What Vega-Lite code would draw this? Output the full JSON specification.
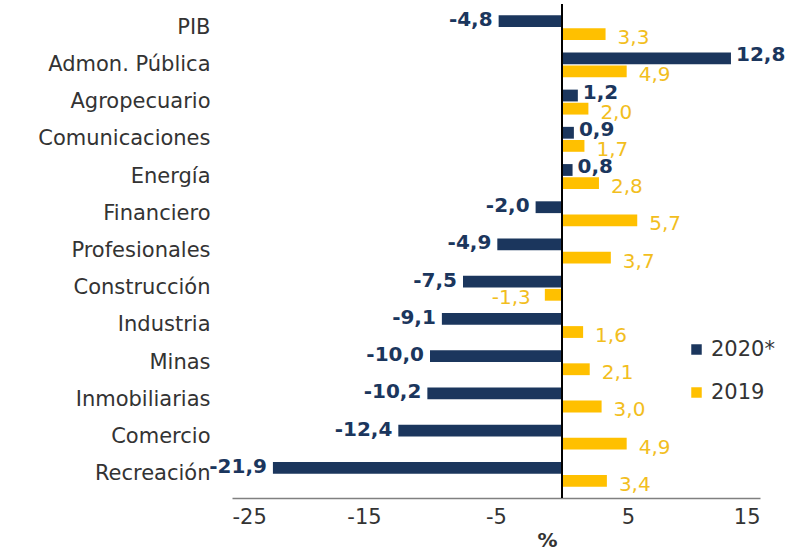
{
  "$schema": "https://vega.github.io/schema/vega-lite/v6.json",
  "width": 528,
  "height": 494,
  "autosize": "none",
  "padding": {"left": 232, "top": 4, "right": 25, "bottom": 52},
  "background": "white",
  "config": {
    "view": {"stroke": null},
    "font": "DejaVu Sans",
    "locale": {"number": {"decimal": ",", "thousands": ".", "grouping": [3], "currency": ["", " €"], "minus": "-"}}
  },
  "data": {
    "values": [
      {"cat": "PIB", "series": "2020*", "v": -4.8},
      {"cat": "PIB", "series": "2019", "v": 3.3},
      {"cat": "Admon. Pública", "series": "2020*", "v": 12.8},
      {"cat": "Admon. Pública", "series": "2019", "v": 4.9},
      {"cat": "Agropecuario", "series": "2020*", "v": 1.2},
      {"cat": "Agropecuario", "series": "2019", "v": 2.0},
      {"cat": "Comunicaciones", "series": "2020*", "v": 0.9},
      {"cat": "Comunicaciones", "series": "2019", "v": 1.7},
      {"cat": "Energía", "series": "2020*", "v": 0.8},
      {"cat": "Energía", "series": "2019", "v": 2.8},
      {"cat": "Financiero", "series": "2020*", "v": -2.0},
      {"cat": "Financiero", "series": "2019", "v": 5.7},
      {"cat": "Profesionales", "series": "2020*", "v": -4.9},
      {"cat": "Profesionales", "series": "2019", "v": 3.7},
      {"cat": "Construcción", "series": "2020*", "v": -7.5},
      {"cat": "Construcción", "series": "2019", "v": -1.3},
      {"cat": "Industria", "series": "2020*", "v": -9.1},
      {"cat": "Industria", "series": "2019", "v": 1.6},
      {"cat": "Minas", "series": "2020*", "v": -10.0},
      {"cat": "Minas", "series": "2019", "v": 2.1},
      {"cat": "Inmobiliarias", "series": "2020*", "v": -10.2},
      {"cat": "Inmobiliarias", "series": "2019", "v": 3.0},
      {"cat": "Comercio", "series": "2020*", "v": -12.4},
      {"cat": "Comercio", "series": "2019", "v": 4.9},
      {"cat": "Recreación", "series": "2020*", "v": -21.9},
      {"cat": "Recreación", "series": "2019", "v": 3.4}
    ]
  },
  "encoding": {
    "y": {
      "field": "cat", "type": "nominal", "sort": null,
      "scale": {"paddingInner": 0.33, "paddingOuter": 0.3},
      "axis": {"title": null, "domain": false, "ticks": false, "labelPadding": 22, "labelFontSize": 21, "labelColor": "#333333", "labelFont": "DejaVu Sans"}
    },
    "yOffset": {"field": "series", "type": "nominal", "sort": ["2020*", "2019"], "scale": {"paddingInner": 0.1}},
    "x": {
      "field": "v", "type": "quantitative",
      "scale": {"domain": [-25, 15], "nice": false, "zero": false},
      "axis": {"values": [-25, -15, -5, 5, 15], "grid": false, "ticks": false, "domainColor": "#808080", "domainWidth": 1.5, "labelFontSize": 21, "labelColor": "#333333", "labelPadding": 8, "title": "%", "titleFontSize": 20, "titleFontWeight": "bold", "titleColor": "#333333", "titlePadding": 3, "titleX": 315}
    }
  },
  "layer": [
    {
      "mark": {"type": "bar"},
      "encoding": {
        "color": {
          "field": "series", "type": "nominal",
          "scale": {"domain": ["2020*", "2019"], "range": ["#1B365D", "#FFC000"]},
          "legend": {"title": null, "orient": "none", "legendX": 454, "legendY": 335, "symbolType": "square", "symbolSize": 110, "symbolStrokeWidth": 0, "labelFontSize": 21, "labelColor": "#333333", "rowPadding": 21, "labelOffset": 4}
        }
      }
    },
    {
      "mark": {"type": "rule", "color": "black", "strokeWidth": 1.5},
      "encoding": {"x": {"datum": 0}, "y": null, "yOffset": null}
    },
    {
      "transform": [{"filter": "datum.series === '2020*' && datum.v < 0"}],
      "mark": {"type": "text", "align": "right", "baseline": "middle", "dx": -6, "dy": -1, "fontSize": 20, "fontWeight": "bold", "color": "#1B365D"},
      "encoding": {"text": {"field": "v", "type": "quantitative", "format": ".1f"}}
    },
    {
      "transform": [{"filter": "datum.series === '2020*' && datum.v >= 0"}],
      "mark": {"type": "text", "align": "left", "baseline": "middle", "dx": 5, "dy": -3, "fontSize": 20, "fontWeight": "bold", "color": "#1B365D"},
      "encoding": {"text": {"field": "v", "type": "quantitative", "format": ".1f"}}
    },
    {
      "transform": [{"filter": "datum.series === '2019' && datum.v >= 0"}],
      "mark": {"type": "text", "align": "left", "baseline": "middle", "dx": 12, "dy": 4, "fontSize": 20, "color": "#F2BE1E"},
      "encoding": {"text": {"field": "v", "type": "quantitative", "format": ".1f"}}
    },
    {
      "transform": [{"filter": "datum.series === '2019' && datum.v < 0"}],
      "mark": {"type": "text", "align": "right", "baseline": "middle", "dx": -14, "dy": 3, "fontSize": 20, "color": "#F2BE1E"},
      "encoding": {"text": {"field": "v", "type": "quantitative", "format": ".1f"}}
    }
  ]
}
